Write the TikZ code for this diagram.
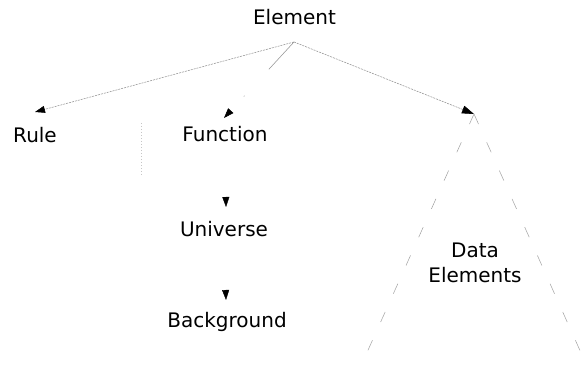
\documentclass[tikz,border=0pt]{standalone}
\usepackage{fontspec}
\setmainfont{DejaVu Sans}
\usetikzlibrary{arrows.meta}
\tikzset{
  lbl/.style={font=\fontsize{20}{25}\selectfont, inner sep=0pt, anchor=base, align=center},
  conn/.style={draw=gray!85, line width=0.55pt},
  tipbig/.style={-{Triangle[length=12pt,width=8pt,black]}},
  tipsmall/.style={-{Triangle[length=10pt,width=7pt,black]}},
  finedash/.style={dash pattern=on 2pt off 1pt},
  looseline/.style={draw=gray!75, line width=0.5pt, dash pattern=on 11pt off 20pt},
}
\begin{document}
\begin{tikzpicture}[x=1pt,y=-1pt]
\useasboundingbox (0,0) rectangle (584,371);
% text nodes
\node[lbl] (elt) at (294.5,25) {Element};
\node[lbl] (rule) at (35,143) {Rule};
\node[lbl] (fn) at (225,142) {Function};
\node[lbl] (uni) at (224,237) {Universe};
\node[lbl] (bg) at (227,328) {Background};
\node[lbl] (data) at (475,283) {Data\\Elements};
% connector end points
\coordinate (apex) at (294,42);
\coordinate (ruletip) at (35,112);
\coordinate (fntip) at (224,118);
\coordinate (dtop) at (474,114);
\coordinate (dl) at (360,368);
\coordinate (dr) at (582,355);
\coordinate (unitip) at (226,207);
\coordinate (bgtip) at (226,300);
% arrows from Element
\draw[conn, finedash, tipsmall] (apex) -- (ruletip);
\draw[conn, dash pattern=on 37pt off 36pt on 1pt off 40pt, tipsmall] (apex) -- (fntip);
\draw[conn, finedash, tipbig] (apex) -- (dtop);
% Function -> Universe -> Background (lines faded away)
\draw[draw=white, tipsmall] (fn.south |- 0,150) -- (unitip);
\draw[draw=white, tipsmall] (uni.south |- 0,245) -- (bgtip);
% Data elements triangle
\draw[looseline] (dtop) -- (dl);
\draw[looseline] (dtop) -- (dr);
% faint vertical mark
\draw[gray!45, line width=0.4pt, dash pattern=on 1pt off 2pt] (141,123) -- (141,175);
\end{tikzpicture}
\end{document}
